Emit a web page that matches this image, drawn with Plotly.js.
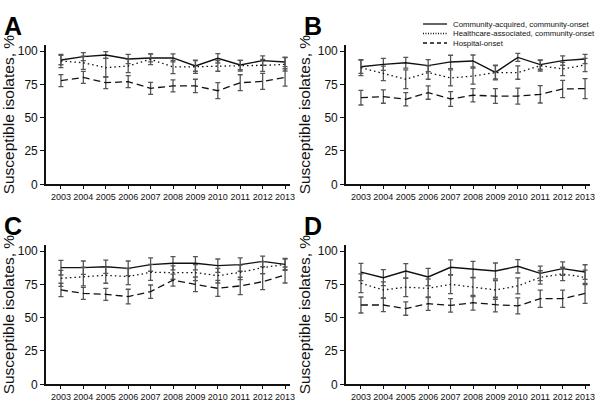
<!DOCTYPE html>
<html><head><meta charset="utf-8">
<script src="https://cdn.plot.ly/plotly-3.0.1.min.js"></script>
<style>html,body{margin:0;padding:0;background:#fff}#chart{width:600px;height:403px}</style>
</head><body><div id="chart"></div>
<script>
const years = [2003,2004,2005,2006,2007,2008,2009,2010,2011,2012,2013];
const seriesNames = ["Community-acquired, community-onset","Healthcare-associated, community-onset","Hospital-onset"];
const panelLabels = ["A","B","C","D"];
const yTicks = [0,25,50,75,100];

const aCA = [93.2,95.8,97,94,94.8,94.8,88.8,94.5,89.5,92.8,91.8];
const aHA = [92.5,91.2,87.5,88.8,93.8,88,88.2,88.8,89,89.2,90];
const aHO = [77.8,80.2,76.2,77,72,73.8,73.8,70.2,76.2,77.2,80.2];
const aCAerr = [3.5,3,2.5,3.5,3,3,4,3.5,3.5,3.5,3.5];
const aHAerr = [5,5,7,5,4,5,5,4,4,4.5,5];
const aHOerr = [4.5,4.5,4.5,4.5,4.5,4.5,5,6,6,6,6.5];

const bCA = [88.2,90,91.2,89,91.8,92.5,84,95.2,89.8,92.8,94];
const bHA = [87.5,83.2,78.8,83.8,79.8,81.2,83.8,83.8,89,86.5,89.5];
const bHO = [65,65.8,63.8,68.8,64,66.8,66.2,66.2,67.5,71.5,71.8];
const bCAerr = [5,4.5,4,4.5,5,4.5,5,3,3.5,3.5,3.5];
const bHAerr = [6,5.5,7,5,6,6,5.5,5,4,5,5];
const bHOerr = [5.5,5,5,5,5.5,5,5.5,6,6.5,6.5,7.5];

const cCA = [87.5,87.5,88.2,87,89.8,90.8,90.8,89,89.8,92.2,90];
const cHA = [79.5,80.8,81.8,80.8,84,83.8,83.8,81.5,84,87.5,90];
const cHO = [70.8,68.2,67.5,65.8,69.5,78.2,75,72,73.8,77,82];
const cCAerr = [5.5,5,5,5.5,5,5,5,5,5,4,4.5];
const cHAerr = [6,7,6,6,6,5,6,5.5,5.5,4.5,4];
const cHOerr = [5,4.5,4.5,5.5,5,4.5,5.5,6,6.5,6,6];

const dCA = [84.2,80,85,80.5,87.8,86.2,85,88.5,83.2,86.8,84.2];
const dHA = [75.8,70.8,72.8,72,75,72.8,70.8,73.8,80.2,82.8,80.2];
const dHO = [59.5,59.5,56.8,60.5,59.2,61.2,59.8,58.8,64.2,64.2,68.2];
const dCAerr = [6.5,6,5.5,6.5,5.5,6,6,5,5.5,5,5.5];
const dHAerr = [7,6,7,7,7,7,7,6,5,5,5.5];
const dHOerr = [6,5,5,5,5,5.5,5.5,6,6.5,6.5,7.5];

const panels = [
  [[aCA,aCAerr],[aHA,aHAerr],[aHO,aHOerr]],
  [[bCA,bCAerr],[bHA,bHAerr],[bHO,bHOerr]],
  [[cCA,cCAerr],[cHA,cHAerr],[cHO,cHOerr]],
  [[dCA,dCAerr],[dHA,dHAerr],[dHO,dHOerr]]
];
const dashes = ["solid","1.5px,3px","7px,4px"];

const traces = [];
panels.forEach((p, i) => {
  const ax = i === 0 ? "" : String(i + 1);
  p.forEach((s, j) => {
    traces.push({
      type: "scatter", mode: "lines", x: years, y: s[0],
      name: seriesNames[j], showlegend: false,
      xaxis: "x" + ax, yaxis: "y" + ax,
      line: {color: "#111", width: j === 0 ? 1.4 : 1.3, dash: dashes[j]},
      error_y: {type: "data", array: s[1], visible: true, color: "#555", thickness: 1.3, width: 2.5}
    });
  });
});

const W = 600, H = 403;
const xDom = [[45.7, 290], [345.7, 590]];
const yDom = [[45, 184.3], [245, 384.3]];
const layout = {
  width: W, height: H, margin: {l: 0, r: 0, t: 0, b: 0},
  paper_bgcolor: "#fff", plot_bgcolor: "#fff",
  font: {family: "Arial, Liberation Sans, sans-serif", color: "#111"},
  showlegend: false, annotations: [], shapes: []
};
for (let i = 0; i < 4; i++) {
  const col = i % 2, row = Math.floor(i / 2);
  const ax = i === 0 ? "" : String(i + 1);
  layout["xaxis" + ax] = {
    domain: [xDom[col][0] / W, xDom[col][1] / W], range: [2002.32, 2013.22],
    anchor: "y" + ax, tickvals: years, ticktext: years.map(String),
    tickfont: {size: 9, color: "#111"}, ticks: "outside", ticklen: 3, tickcolor: "#111",
    showline: true, linecolor: "#111", linewidth: 1.5, showgrid: false, zeroline: false, fixedrange: true
  };
  layout["yaxis" + ax] = {
    domain: [1 - yDom[row][1] / H, 1 - yDom[row][0] / H], range: [0, 104.5],
    anchor: "x" + ax, tickvals: yTicks, tickfont: {size: 12, color: "#111"},
    ticks: "outside", ticklen: 4, tickcolor: "#111",
    showline: true, linecolor: "#111", linewidth: 1.5, showgrid: false, zeroline: false,
    title: {text: "Susceptible isolates, %", font: {size: 15.5, color: "#111"}, standoff: 3}, fixedrange: true
  };
  layout.annotations.push({
    text: "<b>" + panelLabels[i] + "</b>", xref: "paper", yref: "paper",
    x: (col * 300 + 2) / W, y: 1 - (row * 200 + 10) / H, xanchor: "left", yanchor: "top",
    showarrow: false, font: {size: 25, color: "#000", family: "Arial, Liberation Sans, sans-serif"}
  });
}
// legend in panel B
seriesNames.forEach((n, j) => {
  const yy = 1 - (24 + j * 9.5) / H;
  layout.shapes.push({type: "line", xref: "paper", yref: "paper", x0: 423 / W, x1: 447 / W, y0: yy, y1: yy,
    line: {color: "#111", width: 1.3, dash: j === 2 ? "4px,3px" : (j === 1 ? "1px,1.5px" : "solid")}});
  layout.annotations.push({text: n, xref: "paper", yref: "paper", x: 451 / W, y: yy, xanchor: "left", yanchor: "middle",
    showarrow: false, font: {size: 7.8, color: "#111"}});
});

Plotly.newPlot("chart", traces, layout, {staticPlot: true, displayModeBar: false});
</script></body></html>
